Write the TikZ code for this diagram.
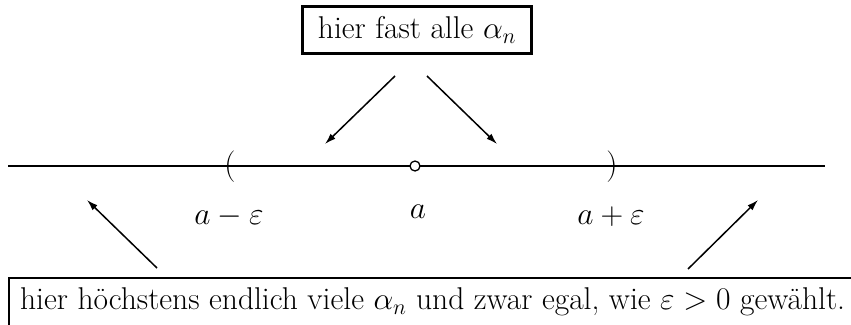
\RequirePackage{fix-cm}
\documentclass[tikz,border=0pt]{standalone}
\usetikzlibrary{arrows.meta}
\begin{document}
\begin{tikzpicture}[x=1pt,y=-1pt,
  every node/.style={font=\fontsize{31.5}{38}\selectfont},
  arr/.style={-{Latex[length=11pt,width=7pt]},line width=1.5pt},
  boxed/.style={draw,line width=2.2pt,inner xsep=11pt},
  lbl/.style={inner sep=0pt}]
\useasboundingbox (0,0) rectangle (851,324);
\clip (0,0) rectangle (851,324);
% number line
\coordinate (L) at (8,166);
\coordinate (R) at (825,166);
\draw[line width=2.2pt] (L) -- (R);
\node[lbl] (lp) at (230,167) {$($};
\node[lbl] (rp) at (612,167) {$)$};
\node[draw,circle,fill=white,line width=1.3pt,minimum size=10pt,inner sep=0pt] (pt) at (415,166) {};
\node[lbl] (la) at (229,217) {$a-\varepsilon$};
\node[lbl] (a) at (418,212) {$a$};
\node[lbl] (ra) at (611,217) {$a+\varepsilon$};
% top box
\node[boxed,minimum width=229pt,minimum height=47pt] (top) at (417,30) {hier fast alle $\alpha_n$};
\coordinate (t1) at (395,76);
\coordinate (t1e) at (325,144);
\coordinate (t2) at (427,76);
\coordinate (t2e) at (497,144);
\draw[arr] (t1) -- (t1e);
\draw[arr] (t2) -- (t2e);
% bottom box
\node[boxed,minimum height=48pt,anchor=west] (bot) at (8,302) {hier höchstens endlich viele $\alpha_n$ und zwar egal, wie $\varepsilon>0$ gewählt.};
\coordinate (b1) at (157,268);
\coordinate (b1e) at (87,200);
\coordinate (b2) at (688,269);
\coordinate (b2e) at (758,200);
\draw[arr] (b1) -- (b1e);
\draw[arr] (b2) -- (b2e);
\end{tikzpicture}
\end{document}
